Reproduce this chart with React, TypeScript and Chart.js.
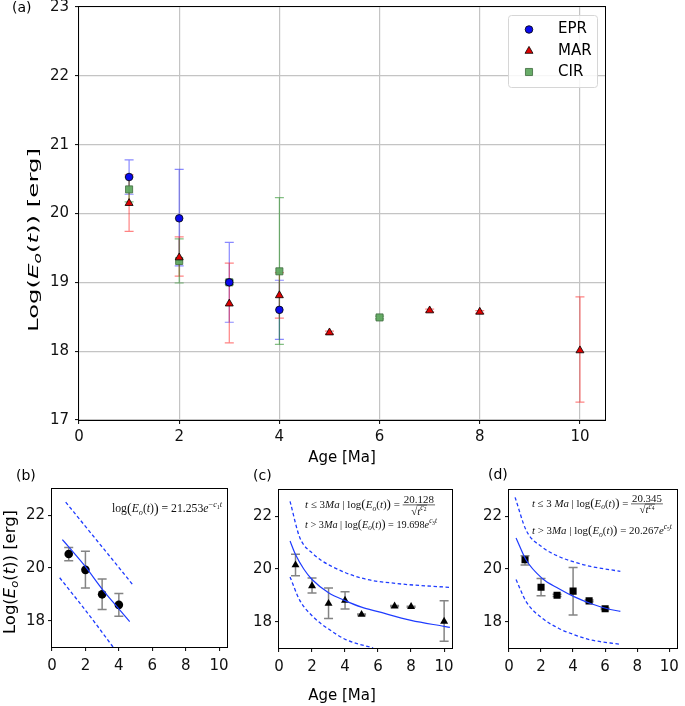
import React, { useEffect, useRef } from "react";
import { Chart, registerables } from "chart.js";
Chart.register(...registerables);

// ---------- tick labels ----------
const ageTicks = [0, 2, 4, 6, 8, 10];
const mainLogTicks = [17, 18, 19, 20, 21, 22, 23];
const subLogTicks = [18, 20, 22];

// ---------- panel (a) ----------
const eprAge = [1, 2, 3, 4];
const eprLog = [20.53, 19.93, 19.0, 18.6];
const eprLow = [20.28, 19.24, 18.42, 18.17];
const eprHigh = [20.78, 20.64, 19.58, 19.03];

const marAge = [1, 2, 3, 4, 5, 7, 8, 10];
const marLog = [20.15, 19.36, 18.69, 18.81, 18.27, 18.59, 18.57, 18.01];
const marLow = [19.74, 19.09, 18.12, 18.48, 18.25, 18.57, 18.55, 17.26];
const marHigh = [20.56, 19.66, 19.28, 19.14, 18.29, 18.61, 18.59, 18.79];

const cirAge = [1, 2, 3, 4, 6];
const cirLog = [20.35, 19.31, 19.0, 19.16, 18.49];
const cirLow = [20.17, 18.99, 18.97, 18.1, 18.47];
const cirHigh = [20.53, 19.63, 19.03, 20.23, 18.51];

// ---------- panel (d) points ----------
const dAge = [1, 2, 3, 4, 5, 6];
const dLog = [20.35, 19.31, 19.0, 19.16, 18.79, 18.49];
const dLow = [20.15, 18.98, 18.96, 18.25, 18.76, 18.46];
const dHigh = [20.5, 19.64, 19.04, 20.06, 18.82, 18.52];

// ---------- fitted curves ----------
const bFitAge = [0.62, 1, 2, 3, 4, 4.65];
const bFitLog = [21.08, 20.8, 20.05, 19.2, 18.45, 17.96];
const bUpAge = [0.82, 2, 3, 4, 4.85];
const bUpLog = [22.5, 21.58, 20.8, 20.02, 19.35];
const bLoAge = [0.46, 1.5, 2.5, 3.65];
const bLoLog = [19.63, 18.8, 17.98, 17.0];

const cFitAge = [0.67, 1, 1.5, 2, 3, 4, 5, 6, 8, 10, 10.35];
const cFitLog = [21.06, 20.55, 20.0, 19.6, 19.1, 18.8, 18.55, 18.38, 18.05, 17.82, 17.78];
const cUpAge = [0.67, 1.25, 2.06, 3.07, 5.09, 7.11, 10.34];
const cUpLog = [22.57, 21.21, 20.58, 20.14, 19.64, 19.45, 19.3];
const cLoAge = [0.67, 1.25, 2.06, 3.07, 4.08, 5.7];
const cLoLog = [19.7, 18.82, 18.19, 17.69, 17.31, 17.0];

const dFitAge = [0.44, 1.08, 2.08, 3.09, 4.09, 5.09, 6.09, 6.95];
const dFitLog = [21.18, 20.33, 19.64, 19.26, 18.94, 18.69, 18.5, 18.39];
const dUpAge = [0.38, 1.08, 2.08, 3.09, 4.09, 5.09, 6.95];
const dUpLog = [22.72, 21.46, 20.83, 20.48, 20.26, 20.1, 19.91];
const dLoAge = [0.44, 1.08, 2.08, 3.09, 4.09, 5.09, 6.95];
const dLoLog = [19.6, 18.75, 18.13, 17.75, 17.5, 17.31, 17.14];

// ---------- styling ----------
const SANS = '"DejaVu Sans", sans-serif';
const SERIF = '"Liberation Serif", "DejaVu Serif", serif';
const FIT_BLUE = "#1f3cff";
const MAIN_TOP = -10;
const SUB_TOP = 460;

const pts = (xs: number[], ys: number[]) => xs.map((x, i) => ({ x, y: ys[i] }));

// ---------- math text helpers ----------
type Run = { t: string; it?: boolean; s?: number; dy?: number };
type Frac = { num: Run[]; den: Run[]; sqrt?: boolean };
type Item = Run | Frac;

function fontOf(r: Run, size: number, fam: string) {
  return `${r.it ? "italic " : ""}${(size * (r.s ?? 1)).toFixed(2)}px ${fam}`;
}
function runsWidth(ctx: any, runs: Run[], size: number, fam: string) {
  let w = 0;
  for (const r of runs) {
    ctx.font = fontOf(r, size, fam);
    w += ctx.measureText(r.t).width;
  }
  return w;
}
function drawRuns(ctx: any, runs: Run[], x: number, base: number, size: number, fam: string) {
  let cx = x;
  for (const r of runs) {
    ctx.font = fontOf(r, size, fam);
    ctx.fillText(r.t, cx, base + (r.dy ?? 0) * size);
    cx += ctx.measureText(r.t).width;
  }
  return cx;
}
function itemWidth(ctx: any, it: Item, size: number, fam: string) {
  if ("num" in it) {
    const nw = runsWidth(ctx, it.num, size, fam);
    let dw = runsWidth(ctx, it.den, size, fam);
    if (it.sqrt) {
      ctx.font = `${size}px ${fam}`;
      dw += ctx.measureText("√").width;
    }
    return Math.max(nw, dw) + 0.2 * size;
  }
  return runsWidth(ctx, [it], size, fam);
}
function eqWidth(ctx: any, items: Item[], size: number, fam: string) {
  return items.reduce((a, it) => a + itemWidth(ctx, it, size, fam), 0);
}
function drawEq(ctx: any, items: Item[], x: number, mid: number, size: number, fam: string, color = "#111") {
  ctx.save();
  ctx.fillStyle = color;
  ctx.strokeStyle = color;
  ctx.textBaseline = "alphabetic";
  ctx.textAlign = "left";
  const base = mid + 0.35 * size;
  let cx = x;
  for (const it of items) {
    if ("num" in it) {
      const w = itemWidth(ctx, it, size, fam);
      const bar = base - 0.27 * size;
      const nw = runsWidth(ctx, it.num, size, fam);
      drawRuns(ctx, it.num, cx + (w - nw) / 2, bar - 0.14 * size, size, fam);
      ctx.lineWidth = Math.max(0.6, size * 0.06);
      ctx.beginPath();
      ctx.moveTo(cx, bar);
      ctx.lineTo(cx + w, bar);
      ctx.stroke();
      const dw = runsWidth(ctx, it.den, size, fam);
      let sw = 0;
      ctx.font = `${size}px ${fam}`;
      if (it.sqrt) sw = ctx.measureText("√").width;
      const dx = cx + (w - dw - sw) / 2;
      const db = bar + 0.88 * size;
      if (it.sqrt) {
        ctx.font = `${size}px ${fam}`;
        ctx.fillText("√", dx, db);
        ctx.beginPath();
        ctx.moveTo(dx + sw * 0.92, db - 0.86 * size);
        ctx.lineTo(dx + sw + dw + 0.5, db - 0.86 * size);
        ctx.stroke();
      }
      drawRuns(ctx, it.den, dx + sw, db, size, fam);
      cx += w;
    } else {
      cx = drawRuns(ctx, [it], cx, base, size, fam);
    }
  }
  ctx.restore();
  return cx - x;
}
function drawEqFit(ctx: any, items: Item[], x: number, mid: number, targetW: number, fam: string) {
  const w = eqWidth(ctx, items, 10, fam);
  const size = (10 * targetW) / w;
  drawEq(ctx, items, x, mid, size, fam);
}

const logE: Run[] = [
  { t: "log" },
  { t: "(", s: 1.2, dy: 0.06 },
  { t: "E", it: true },
  { t: "o", it: true, s: 0.7, dy: 0.25 },
  { t: "(" },
  { t: "t", it: true },
  { t: ")" },
  { t: ")", s: 1.2, dy: 0.06 },
];
const sup = (t: string, it = true): Run => ({ t, it, s: 0.7, dy: -0.45 });
const supSub = (t: string): Run => ({ t, s: 0.5, dy: -0.3 });

const eqB: Item[] = [...logE, { t: " = 21.253" }, { t: "e", it: true }, sup("−", false), sup("c"), supSub("1"), sup("t")];
const eqC1: Item[] = [
  { t: "t", it: true }, { t: " ≤ 3" }, { t: "Ma", it: true }, { t: " | " }, ...logE, { t: " = " },
  { num: [{ t: "20.128" }], den: [{ t: "t", it: true }, sup("c"), supSub("2")], sqrt: true },
];
const eqC2: Item[] = [
  { t: "t", it: true }, { t: " > 3" }, { t: "Ma", it: true }, { t: " | " }, ...logE, { t: " = 19.698" },
  { t: "e", it: true }, sup("c"), supSub("3"), sup("t"),
];
const eqD1: Item[] = [
  { t: "t", it: true }, { t: " ≤ 3 " }, { t: "Ma", it: true }, { t: " | " }, ...logE, { t: " = " },
  { num: [{ t: "20.345" }], den: [{ t: "t", it: true }, sup("c"), supSub("4")], sqrt: true },
];
const eqD2: Item[] = [
  { t: "t", it: true }, { t: " > 3" }, { t: "Ma", it: true }, { t: " | " }, ...logE, { t: " = 20.267" },
  { t: "e", it: true }, sup("c"), supSub("5"), sup("t"),
];
const yLabel: Run[] = [
  { t: "Log(" }, { t: "E", it: true }, { t: "o", it: true, s: 0.7, dy: 0.22 }, { t: "(" }, { t: "t", it: true }, { t: "))" }, { t: " [erg]" },
];

function drawYLabel(ctx: any, cx: number, cy: number, size: number, targetLen: number) {
  ctx.save();
  ctx.translate(cx, cy);
  ctx.rotate(-Math.PI / 2);
  const w = eqWidth(ctx, yLabel, size, SANS);
  const sx = targetLen / w;
  ctx.scale(sx, 1);
  drawEq(ctx, yLabel, -w / 2, 0, size, SANS, "#000");
  ctx.restore();
}

function drawMarker(ctx: any, style: string, x: number, y: number, r: number, fill: string, stroke: string) {
  ctx.save();
  ctx.fillStyle = fill;
  ctx.strokeStyle = stroke;
  ctx.lineWidth = 0.8;
  ctx.beginPath();
  if (style === "circle") ctx.arc(x, y, r, 0, Math.PI * 2);
  else if (style === "triangle") {
    ctx.moveTo(x, y - r);
    ctx.lineTo(x + r * 0.866, y + r / 2);
    ctx.lineTo(x - r * 0.866, y + r / 2);
    ctx.closePath();
  } else {
    const s = r * Math.SQRT1_2;
    ctx.rect(x - s, y - s, 2 * s, 2 * s);
  }
  ctx.fill();
  ctx.stroke();
  ctx.restore();
}

// ---------- plugins ----------
type ErrSet = { x: number[]; lo: number[]; hi: number[]; color: string; cap: number; width: number };
function errPlugin(sets: ErrSet[]) {
  return {
    id: "errbars",
    beforeDatasetsDraw(chart: any) {
      const { ctx, chartArea } = chart;
      const xs = chart.scales.x;
      const ys = chart.scales.y;
      ctx.save();
      ctx.beginPath();
      ctx.rect(chartArea.left, chartArea.top, chartArea.right - chartArea.left, chartArea.bottom - chartArea.top);
      ctx.clip();
      for (const s of sets) {
        ctx.strokeStyle = s.color;
        ctx.lineWidth = s.width;
        for (let i = 0; i < s.x.length; i++) {
          const px = xs.getPixelForValue(s.x[i]);
          const p1 = ys.getPixelForValue(s.lo[i]);
          const p2 = ys.getPixelForValue(s.hi[i]);
          ctx.beginPath();
          ctx.moveTo(px, p1);
          ctx.lineTo(px, p2);
          ctx.moveTo(px - s.cap, p1);
          ctx.lineTo(px + s.cap, p1);
          ctx.moveTo(px - s.cap, p2);
          ctx.lineTo(px + s.cap, p2);
          ctx.stroke();
        }
      }
      ctx.restore();
    },
  };
}
const boxPlugin = {
  id: "axbox",
  afterDatasetsDraw(chart: any) {
    const { ctx, chartArea: a } = chart;
    ctx.save();
    ctx.strokeStyle = "#000";
    ctx.lineWidth = 1;
    ctx.strokeRect(Math.round(a.left) - 0.5, Math.round(a.top) - 0.5, Math.round(a.right - a.left) + 1, Math.round(a.bottom - a.top) + 1);
    ctx.restore();
  },
};
function decoPlugin(fn: (ctx: any, chart: any) => void) {
  return {
    id: "deco",
    afterDraw(chart: any) {
      const ctx = chart.ctx;
      ctx.save();
      fn(ctx, chart);
      ctx.restore();
    },
  };
}

function makeScales(p: { grid: boolean; yTicks: number[]; font: number; xPad: number; yPad: number; yW: number; xH: number }) {
  const grid = {
    display: true,
    drawOnChartArea: p.grid,
    color: "#c4c4c4",
    lineWidth: 1.2,
    drawTicks: true,
    tickLength: 4,
    tickColor: "#000",
    tickWidth: 1,
  };
  const tickFont = { family: SANS, size: p.font };
  return {
    x: {
      type: "linear",
      min: 0,
      max: 10.5,
      afterBuildTicks: (s: any) => {
        s.ticks = ageTicks.map((v) => ({ value: v }));
      },
      afterFit: (s: any) => {
        s.height = p.xH;
      },
      grid,
      border: { display: false },
      ticks: { font: tickFont, color: "#111", padding: p.xPad, autoSkip: false, maxRotation: 0, callback: (v: any) => String(v) },
    },
    y: {
      type: "linear",
      min: 17,
      max: 23,
      afterBuildTicks: (s: any) => {
        s.ticks = p.yTicks.map((v) => ({ value: v }));
      },
      afterFit: (s: any) => {
        s.width = p.yW;
      },
      grid,
      border: { display: false },
      ticks: { font: tickFont, color: "#111", padding: p.yPad, autoSkip: false, callback: (v: any) => String(v) },
    },
  };
}

const baseOpts = (padding: any, scales: any) => ({
  responsive: false,
  animation: false,
  devicePixelRatio: 1,
  layout: { padding },
  scales,
  plugins: { legend: { display: false }, tooltip: { enabled: false } },
  events: [],
});

const curve = (xs: number[], ys: number[], dashed: boolean) => ({
  type: "scatter",
  data: pts(xs, ys),
  showLine: true,
  pointRadius: 0,
  borderColor: FIT_BLUE,
  borderWidth: dashed ? 1.3 : 1.2,
  borderDash: dashed ? [3.5, 2.5] : [],
  cubicInterpolationMode: "monotone",
  fill: false,
});

const EPR_FILL = "#0a0aee";
const MAR_FILL = "#e00000";
const CIR_FILL = "rgba(96,168,96,0.95)";
const CIR_EDGE = "#3d6a3d";

function mainConfig(): any {
  const t = (y: number) => y - MAIN_TOP;
  return {
    type: "scatter",
    data: {
      datasets: [
        { label: "EPR", data: pts(eprAge, eprLog), pointStyle: "circle", pointRadius: 3.8, backgroundColor: EPR_FILL, borderColor: "#000", borderWidth: 0.8 },
        { label: "MAR", data: pts(marAge, marLog), pointStyle: "triangle", pointRadius: 4.6, backgroundColor: MAR_FILL, borderColor: "#000", borderWidth: 0.8 },
        { label: "CIR", data: pts(cirAge, cirLog), pointStyle: "rect", pointRadius: 5, backgroundColor: CIR_FILL, borderColor: CIR_EDGE, borderWidth: 0.8 },
      ],
    },
    options: baseOpts(
      { left: 0, top: 17, right: 80, bottom: 20 },
      makeScales({ grid: true, yTicks: mainLogTicks, font: 15, xPad: 4, yPad: 6, yW: 79, xH: 30 })
    ),
    plugins: [
      errPlugin([
        { x: eprAge, lo: eprLow, hi: eprHigh, color: "rgba(40,40,255,0.55)", cap: 4.5, width: 1.2 },
        { x: marAge, lo: marLow, hi: marHigh, color: "rgba(255,30,30,0.55)", cap: 4.5, width: 1.2 },
        { x: cirAge, lo: cirLow, hi: cirHigh, color: "rgba(30,140,30,0.55)", cap: 4.5, width: 1.2 },
      ]),
      boxPlugin,
      decoPlugin((ctx) => {
        ctx.fillStyle = "#000";
        ctx.textBaseline = "middle";
        ctx.textAlign = "left";
        ctx.font = `14px ${SANS}`;
        ctx.fillText("(a)", 12, t(8.5));
        ctx.textAlign = "center";
        ctx.font = `15px ${SANS}`;
        ctx.fillText("Age [Ma]", 342, t(458));
        drawYLabel(ctx, 33, t(240), 14.5, 184);
        // legend
        ctx.save();
        ctx.fillStyle = "rgba(255,255,255,0.85)";
        ctx.strokeStyle = "#d6d6d6";
        ctx.lineWidth = 1;
        ctx.beginPath();
        (ctx as any).roundRect(508.5, t(15.5), 89, 72, 3);
        ctx.fill();
        ctx.stroke();
        ctx.restore();
        const rows = [
          { name: "EPR", style: "circle", r: 3.8, fill: EPR_FILL, edge: "#000", y: 29.5 },
          { name: "MAR", style: "triangle", r: 4.6, fill: MAR_FILL, edge: "#000", y: 51 },
          { name: "CIR", style: "rect", r: 5, fill: CIR_FILL, edge: CIR_EDGE, y: 72 },
        ];
        for (const r of rows) {
          drawMarker(ctx, r.style, 529, t(r.y), r.r, r.fill, r.edge);
          ctx.fillStyle = "#000";
          ctx.textAlign = "left";
          ctx.font = `15px ${SANS}`;
          ctx.fillText(r.name, 558, t(r.y));
        }
      }),
    ],
  };
}

const GREY_ERR = "rgba(110,110,110,0.85)";

function subConfig(kind: "b" | "c" | "d"): any {
  const t = (y: number) => y - SUB_TOP;
  let datasets: any[] = [];
  let errs: ErrSet[] = [];
  let padding: any;
  let yW = 44;
  let deco: (ctx: any) => void;
  if (kind === "b") {
    padding = { left: 0, top: 29, right: 7, bottom: 29 };
    yW = 52;
    datasets = [
      curve(bUpAge, bUpLog, true),
      curve(bLoAge, bLoLog, true),
      curve(bFitAge, bFitLog, false),
      { type: "scatter", data: pts(eprAge, eprLog), pointStyle: "circle", pointRadius: 4.3, backgroundColor: "#000", borderColor: "#000", borderWidth: 0 },
    ];
    errs = [{ x: eprAge, lo: eprLow, hi: eprHigh, color: GREY_ERR, cap: 4.5, width: 1.5 }];
    deco = (ctx) => {
      ctx.fillStyle = "#000";
      ctx.textBaseline = "middle";
      ctx.textAlign = "left";
      ctx.font = `14px ${SANS}`;
      ctx.fillText("(b)", 16, t(476));
      drawYLabel(ctx, 9.5, t(572), 15, 124);
      drawEqFit(ctx, eqB, 112, t(508), 110, SERIF);
    };
  } else if (kind === "c") {
    padding = { left: 0, top: 30, right: 7, bottom: 28 };
    yW = 44;
    datasets = [
      curve(cUpAge, cUpLog, true),
      curve(cLoAge, cLoLog, true),
      curve(cFitAge, cFitLog, false),
      { type: "scatter", data: pts(marAge, marLog), pointStyle: "triangle", pointRadius: 4.6, backgroundColor: "#000", borderColor: "#000", borderWidth: 0 },
    ];
    errs = [{ x: marAge, lo: marLow, hi: marHigh, color: GREY_ERR, cap: 4.5, width: 1.5 }];
    deco = (ctx) => {
      ctx.fillStyle = "#000";
      ctx.textBaseline = "middle";
      ctx.textAlign = "left";
      ctx.font = `14px ${SANS}`;
      ctx.fillText("(c)", 253 - 235, t(476));
      ctx.textAlign = "center";
      ctx.font = `15px ${SANS}`;
      ctx.fillText("Age [Ma]", 342 - 235, t(696));
      drawEqFit(ctx, eqC1, 305 - 235, t(504), 130, SERIF);
      drawEqFit(ctx, eqC2, 305 - 235, t(524), 132, SERIF);
    };
  } else {
    padding = { left: 0, top: 30, right: 2, bottom: 28 };
    yW = 49;
    datasets = [
      curve(dUpAge, dUpLog, true),
      curve(dLoAge, dLoLog, true),
      curve(dFitAge, dFitLog, false),
      { type: "scatter", data: pts(dAge, dLog), pointStyle: "rect", pointRadius: 5, backgroundColor: "#000", borderColor: "#000", borderWidth: 0 },
    ];
    errs = [{ x: dAge, lo: dLow, hi: dHigh, color: GREY_ERR, cap: 4.5, width: 1.5 }];
    deco = (ctx) => {
      ctx.fillStyle = "#000";
      ctx.textBaseline = "middle";
      ctx.textAlign = "left";
      ctx.font = `14px ${SANS}`;
      ctx.fillText("(d)", 488 - 460, t(475));
      drawEqFit(ctx, eqD1, 532 - 460, t(503), 131, SERIF);
      drawEqFit(ctx, eqD2, 532 - 460, t(530), 140, SERIF);
    };
  }
  return {
    type: "scatter",
    data: { datasets },
    options: baseOpts(padding, makeScales({ grid: false, yTicks: subLogTicks, font: 15, xPad: 6, yPad: 3, yW, xH: 30 })),
    plugins: [errPlugin(errs), boxPlugin, decoPlugin(deco)],
  };
}

export default function App() {
  const mainRef = useRef<HTMLCanvasElement>(null);
  const bRef = useRef<HTMLCanvasElement>(null);
  const cRef = useRef<HTMLCanvasElement>(null);
  const dRef = useRef<HTMLCanvasElement>(null);

  useEffect(() => {
    const charts = [
      new Chart(mainRef.current as any, mainConfig()),
      new Chart(bRef.current as any, subConfig("b")),
      new Chart(cRef.current as any, subConfig("c")),
      new Chart(dRef.current as any, subConfig("d")),
    ];
    return () => charts.forEach((c) => c.destroy());
  }, []);

  const cs = (left: number, top: number, w: number, h: number): any => ({
    position: "absolute",
    left,
    top,
    width: w,
    height: h,
  });

  return (
    <div style={{ position: "absolute", left: 0, top: 0, width: 685, height: 706, background: "#fff", overflow: "hidden" }}>
      <canvas ref={mainRef} width={685} height={480} style={cs(0, MAIN_TOP, 685, 480)} />
      <canvas ref={bRef} width={235} height={246} style={cs(0, SUB_TOP, 235, 246)} />
      <canvas ref={cRef} width={225} height={246} style={cs(235, SUB_TOP, 225, 246)} />
      <canvas ref={dRef} width={225} height={246} style={cs(460, SUB_TOP, 225, 246)} />
    </div>
  );
}
